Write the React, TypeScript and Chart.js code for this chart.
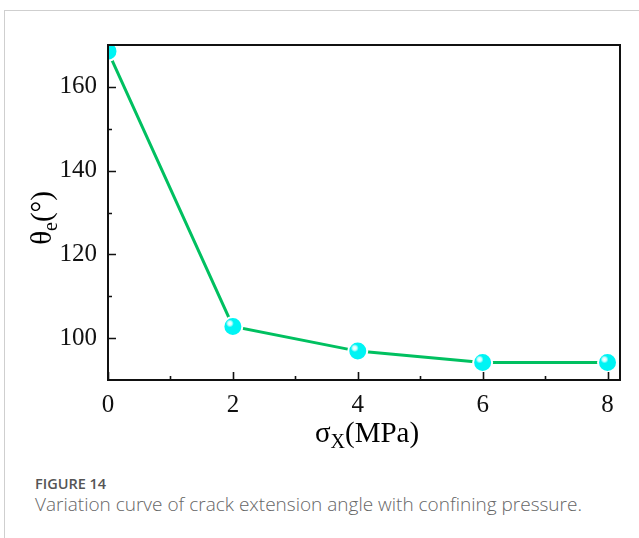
import React, { useEffect, useRef } from "react";
import { Chart, registerables } from "chart.js";

Chart.register(...registerables);

const pressures = [0, 2, 4, 6, 8];
const angles = [168.5, 102.8, 96.9, 94.2, 94.2];
const xTicks = [0, 2, 4, 6, 8];
const xMinor = [1, 3, 5, 7];
const yTicks = [100, 120, 140, 160];
const yMinor = [110, 130, 150];

const serif = "'Liberation Serif', 'Times New Roman', serif";

const framePlugin = {
  id: "frame",
  afterDatasetsDraw(chart: any) {
    const { ctx, chartArea: a } = chart;
    const meta = chart.getDatasetMeta(0);
    ctx.save();
    ctx.beginPath();
    ctx.rect(a.left, a.top, a.right - a.left, a.bottom - a.top);
    ctx.clip();
    meta.data.forEach((p: any) => {
      const g = ctx.createRadialGradient(p.x - 3, p.y - 3, 0, p.x - 3, p.y - 3, 4);
      g.addColorStop(0, "rgba(255,255,255,1)");
      g.addColorStop(0.5, "rgba(255,255,255,0.8)");
      g.addColorStop(1, "rgba(255,255,255,0)");
      ctx.fillStyle = g;
      ctx.beginPath();
      ctx.arc(p.x - 3, p.y - 3, 4, 0, Math.PI * 2);
      ctx.fill();
    });
    ctx.restore();
  },
  afterDraw(chart: any) {
    const { ctx, chartArea: a, scales } = chart;
    const xs = scales.x;
    const ys = scales.y;
    ctx.save();
    ctx.strokeStyle = "#111";
    ctx.lineWidth = 2;
    ctx.strokeRect(a.left, a.top, a.right - a.left, a.bottom - a.top);
    ctx.lineWidth = 1.6;
    ctx.beginPath();
    xTicks.forEach((v) => {
      const x = Math.round(xs.getPixelForValue(v)) + 0.5;
      ctx.moveTo(x, a.bottom);
      ctx.lineTo(x, a.bottom - 8);
    });
    xMinor.forEach((v) => {
      const x = Math.round(xs.getPixelForValue(v)) + 0.5;
      ctx.moveTo(x, a.bottom);
      ctx.lineTo(x, a.bottom - 4);
    });
    yTicks.forEach((v) => {
      const y = Math.round(ys.getPixelForValue(v)) + 0.5;
      ctx.moveTo(a.left, y);
      ctx.lineTo(a.left + 8, y);
    });
    yMinor.forEach((v) => {
      const y = Math.round(ys.getPixelForValue(v)) + 0.5;
      ctx.moveTo(a.left, y);
      ctx.lineTo(a.left + 4, y);
    });
    ctx.stroke();

    // axis titles
    ctx.fillStyle = "#000";
    ctx.textBaseline = "alphabetic";
    ctx.textAlign = "left";
    const big = `29px ${serif}`;
    const small = `20px ${serif}`;
    // x title: σX(MPa)
    ctx.font = big;
    const w1 = ctx.measureText("σ").width;
    const w3 = ctx.measureText("(MPa)").width;
    ctx.font = small;
    const w2 = ctx.measureText("X").width;
    const total = w1 + w2 + w3;
    const cx = 367;
    const x0 = cx - total / 2;
    const by = 442;
    ctx.font = big;
    ctx.fillText("σ", x0, by);
    ctx.font = small;
    ctx.fillText("X", x0 + w1, by + 6);
    ctx.font = big;
    ctx.fillText("(MPa)", x0 + w1 + w2, by);

    // y title: θe(°)
    ctx.save();
    ctx.translate(51, 218);
    ctx.rotate(-Math.PI / 2);
    ctx.font = big;
    const v1 = ctx.measureText("θ").width;
    const v3 = ctx.measureText("(°)").width;
    ctx.font = small;
    const v2 = ctx.measureText("e").width;
    const t2 = v1 + v2 + v3;
    const y0 = -t2 / 2;
    ctx.font = big;
    ctx.fillText("θ", y0, 0);
    ctx.font = small;
    ctx.fillText("e", y0 + v1, 6);
    ctx.font = big;
    ctx.fillText("(°)", y0 + v1 + v2, 0);
    ctx.restore();
    ctx.restore();
  },
};

export default function App() {
  const ref = useRef<HTMLCanvasElement>(null);
  useEffect(() => {
    if (!ref.current) return;
    const chart = new Chart(ref.current, {
      type: "line",
      data: {
        datasets: [
          {
            data: pressures.map((p, i) => ({ x: p, y: angles[i] })),
            borderColor: "#00c060",
            borderWidth: 3,
            pointRadius: 9.5,
            pointBorderWidth: 2,
            pointBackgroundColor: "#00f4f4",
            pointBorderColor: "#ffffff",
            clip: 0,
          } as any,
        ],
      },
      options: {
        animation: false,
        responsive: false,
        maintainAspectRatio: false,
        layout: { padding: { left: 0, top: 45, right: 19, bottom: 0 } },
        plugins: { legend: { display: false }, tooltip: { enabled: false } },
        events: [],
        scales: {
          x: {
            type: "linear",
            min: 0,
            max: 8.2,
            grid: { display: false, drawTicks: false },
            border: { display: false },
            afterBuildTicks: (s: any) => {
              s.ticks = xTicks.map((v) => ({ value: v }));
            },
            afterFit: (s: any) => {
              s.height = 80;
            },
            ticks: {
              color: "#111",
              font: { family: serif, size: 25 },
              padding: 10,
              maxRotation: 0,
            },
          },
          y: {
            type: "linear",
            min: 90,
            max: 170,
            grid: { display: false, drawTicks: false },
            border: { display: false },
            afterBuildTicks: (s: any) => {
              s.ticks = yTicks.map((v) => ({ value: v }));
            },
            afterFit: (s: any) => {
              s.width = 108;
            },
            ticks: {
              color: "#111",
              font: { family: serif, size: 25 },
              padding: 11,
            },
          },
        },
      },
      plugins: [framePlugin],
    });
    return () => chart.destroy();
  }, []);

  return (
    <div>
      <div
        style={{
          position: "absolute",
          left: 4,
          top: 10,
          width: 640,
          height: 540,
          borderLeft: "1px solid #cfcfcf",
          borderTop: "1px solid #cfcfcf",
        }}
      />
      <canvas
        ref={ref}
        width={639}
        height={460}
        style={{ position: "absolute", left: 0, top: 0, width: 639, height: 460 }}
      />
      <div
        style={{
          position: "absolute",
          left: 35,
          top: 475,
          fontFamily: "'Open Sans', 'Noto Sans', sans-serif",
          color: "#555",
        }}
      >
        <div style={{ fontSize: 14.5, fontWeight: 600, lineHeight: "18px" }}>FIGURE 14</div>
        <div style={{ fontSize: 19, fontWeight: 300, lineHeight: "22px", color: "#666", whiteSpace: "nowrap" }}>
          Variation curve of crack extension angle with confining pressure.
        </div>
      </div>
    </div>
  );
}
